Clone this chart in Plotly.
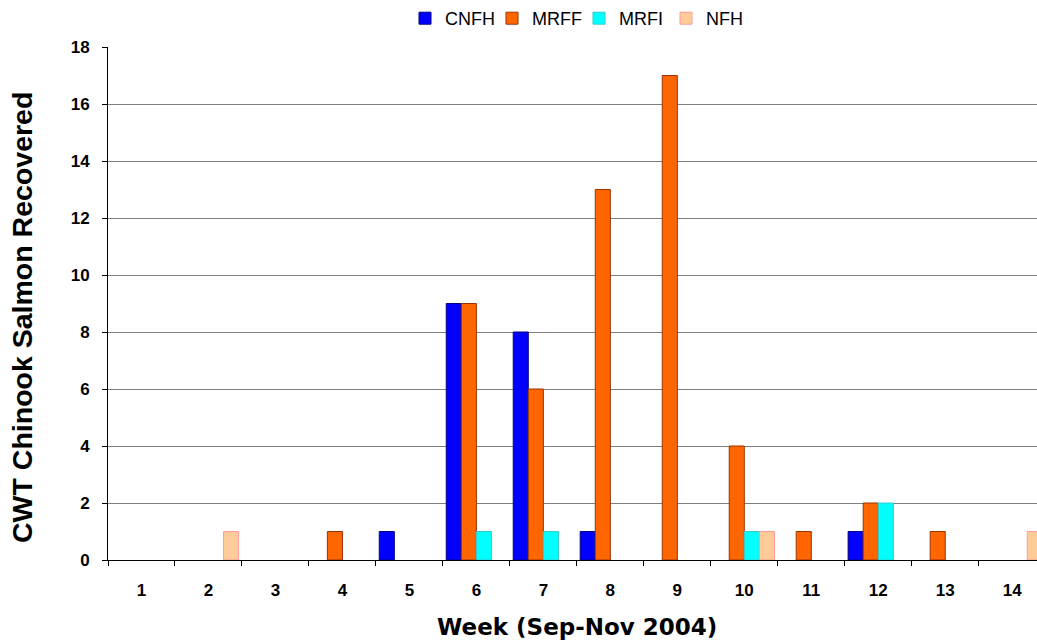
import plotly.graph_objects as go

weeks = [str(w) for w in range(1, 15)]
cnfh = [0, 0, 0, 0, 1, 9, 8, 1, 0, 0, 0, 1, 0, 0]
mrff = [0, 0, 0, 1, 0, 9, 6, 13, 17, 4, 1, 2, 1, 0]
mrfi = [0, 0, 0, 0, 0, 1, 1, 0, 0, 1, 0, 2, 0, 0]
nfh = [0, 1, 0, 0, 0, 0, 0, 0, 0, 1, 0, 0, 0, 1]

series = [
    ("CNFH", cnfh, "#0000FF", "#000080"),
    ("MRFF", mrff, "#FF6600", "#993300"),
    ("MRFI", mrfi, "#00FFFF", "#33CCCC"),
    ("NFH", nfh, "#FFCC99", "#FF9999"),
]

font = "Liberation Sans, Arial, sans-serif"
wide_font = "DejaVu Sans, Liberation Sans, sans-serif"

fig = go.Figure()
for name, vals, fill, edge in series:
    # empty weeks are left without a bar (no outline drawn on the baseline)
    fig.add_trace(go.Bar(
        x=weeks, y=[v if v else None for v in vals], name=name,
        marker=dict(color=fill, line=dict(color=edge, width=1)),
    ))

fig.update_layout(
    width=1037, height=643,
    margin=dict(l=108, r=0, t=47, b=83),
    paper_bgcolor="white", plot_bgcolor="white",
    barmode="group", bargap=0.1, bargroupgap=0,
    font=dict(family=font, color="black"),
    showlegend=True,
    legend=dict(
        orientation="h", x=0.507, xanchor="center", y=1.0565, yanchor="middle",
        font=dict(size=18, family=font), itemwidth=30,
        entrywidth=42, entrywidthmode="pixels",
        traceorder="normal",
    ),
    annotations=[
        dict(text="<b>Week (Sep-Nov 2004)</b>", xref="paper", yref="paper",
             x=0.5048, y=-0.131, xanchor="center", yanchor="middle", showarrow=False,
             font=dict(size=23, family=wide_font, color="black")),
        dict(text="<b>CWT Chinook Salmon Recovered</b>", xref="paper", yref="paper",
             x=-0.0926, y=0.4737, xanchor="center", yanchor="middle", showarrow=False,
             textangle=-90, font=dict(size=28.5, family=font, color="black")),
    ],
)

fig.update_xaxes(
    type="category", range=[-0.5, 13.37],
    tickson="boundaries", ticks="outside", ticklen=5, tickcolor="black",
    showline=True, linecolor="black", linewidth=1,
    showgrid=False,
    tickfont=dict(size=17, family=font, weight="bold"),
    ticklabelstandoff=15,
)

fig.update_yaxes(
    range=[0, 18], dtick=2, tick0=0,
    ticks="outside", ticklen=5, tickcolor="black",
    showline=True, linecolor="black", linewidth=1,
    showgrid=True, gridcolor="#808080", gridwidth=1,
    zeroline=True, zerolinecolor="black", zerolinewidth=1,
    tickfont=dict(size=17, family=font, weight="bold"),
    ticklabelstandoff=9,
)

fig.write_html("out.html")
